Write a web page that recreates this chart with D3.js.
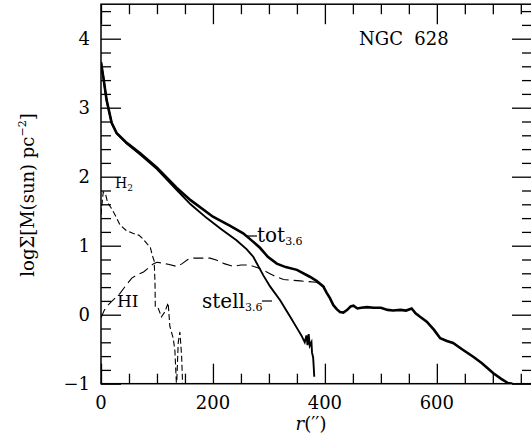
<!DOCTYPE html>
<html>
<head>
<meta charset="utf-8">
<script src="https://cdn.jsdelivr.net/npm/d3@7"></script>
<style>
  body { margin: 0; background: #fff; }
  svg text { font-family: "DejaVu Serif", serif; fill: #000; white-space: pre; }
</style>
</head>
<body>
<div id="chart"></div>
<script>
// radius in arcsec, log surface density
const totR = [0, 2, 4, 10, 19, 28, 46, 70, 100, 135, 160, 200, 230, 254, 270, 284, 298, 314, 330, 350, 373, 385, 397, 403, 409, 415, 421, 427, 433, 440, 446, 451, 458, 465, 475, 487, 500, 512, 522, 535, 545, 555, 562, 570, 582, 595, 606, 618, 629, 645, 665, 680, 701, 715, 727, 735];
const totV = [3.66, 3.55, 3.45, 3.11, 2.78, 2.63, 2.49, 2.34, 2.13, 1.84, 1.66, 1.42, 1.29, 1.18, 1.07, 0.97, 0.84, 0.74, 0.69, 0.65, 0.55, 0.49, 0.41, 0.32, 0.24, 0.14, 0.08, 0.04, 0.03, 0.07, 0.12, 0.13, 0.09, 0.10, 0.11, 0.10, 0.10, 0.07, 0.06, 0.07, 0.06, 0.09, 0.02, -0.03, -0.10, -0.22, -0.34, -0.38, -0.41, -0.50, -0.61, -0.70, -0.85, -0.93, -0.99, -1.0];

const stellR = [0, 2, 4, 10, 19, 28, 46, 70, 100, 135, 160, 189, 215, 242, 260, 272, 284, 290, 302, 320, 338, 352, 358, 364, 367, 369, 371, 373, 376, 377, 379, 380, 381];
const stellV = [3.66, 3.55, 3.45, 3.11, 2.78, 2.63, 2.48, 2.32, 2.11, 1.81, 1.60, 1.40, 1.24, 1.08, 0.95, 0.84, 0.66, 0.57, 0.41, 0.21, -0.03, -0.22, -0.30, -0.40, -0.30, -0.44, -0.28, -0.45, -0.40, -0.55, -0.62, -0.75, -0.90];

const hiR = [0, 5, 10, 20, 34, 45, 55, 65, 76, 85, 94, 100, 108, 120, 135, 145, 155, 165, 180, 195, 207, 220, 236, 250, 265, 280, 296, 310, 326, 340, 356, 370, 385, 400];
const hiV = [-0.05, 0.05, 0.12, 0.20, 0.31, 0.43, 0.53, 0.58, 0.62, 0.68, 0.74, 0.76, 0.75, 0.73, 0.70, 0.74, 0.80, 0.82, 0.82, 0.82, 0.79, 0.74, 0.70, 0.72, 0.72, 0.68, 0.62, 0.56, 0.51, 0.50, 0.49, 0.48, 0.47, 0.40];

const h2R = [0, 4, 8, 12, 18, 25, 34, 45, 57, 68, 75, 82, 88, 92, 95, 96.5, 97, 102, 108, 114, 120, 123, 129, 132, 135, 138, 141, 144, 146];
const h2V = [1.45, 1.78, 1.75, 1.62, 1.55, 1.45, 1.30, 1.22, 1.18, 1.15, 1.10, 1.03, 0.98, 0.85, 0.78, 0.45, 0.12, 0.10, -0.03, 0.04, 0.17, -0.17, -0.34, -0.52, -1.05, -0.40, -0.25, -0.60, -1.05];

const xMajor = [0, 200, 400, 600];
const yMajor = [-1, 0, 1, 2, 3, 4];

const width = 531, height = 434;
const svg = d3.select("#chart").append("svg")
  .attr("width", width).attr("height", height)
  .attr("font-family", "DejaVu Serif");

const x = d3.scaleLinear().domain([0, 770]).range([101, 532]);
const y = d3.scaleLinear().domain([-1, 4.5]).range([383.7, 4.2]);

svg.append("clipPath").attr("id", "clip")
  .append("rect").attr("x", 101).attr("y", 4.2).attr("width", 431).attr("height", 379.5);

// frame
svg.append("rect")
  .attr("x", 101).attr("y", 4.2).attr("width", 431).attr("height", 379.5)
  .attr("fill", "none").attr("stroke", "#000").attr("stroke-width", 1.5);

// ticks on all sides, pointing in
const xMinor = d3.range(0, 771, 50).filter(d => !xMajor.includes(d));
const yMinor = d3.range(-1, 4.5001, 0.2).map(d => +d.toFixed(1)).filter(d => !yMajor.includes(d));

function ticks(axis, vals, len, tr) {
  const g = svg.append("g").attr("transform", tr)
    .call(axis.tickValues(vals).tickSize(len).tickFormat(""));
  g.select(".domain").remove();
  g.selectAll("line").attr("stroke", "#000").attr("stroke-width", 1.3);
}
ticks(d3.axisBottom(x), xMajor, -20, "translate(0,383.7)");
ticks(d3.axisBottom(x), xMinor, -10, "translate(0,383.7)");
ticks(d3.axisTop(x), xMajor, -20, "translate(0,4.2)");
ticks(d3.axisTop(x), xMinor, -10, "translate(0,4.2)");
ticks(d3.axisLeft(y), yMajor, -20, "translate(101,0)");
ticks(d3.axisLeft(y), yMinor, -10, "translate(101,0)");
ticks(d3.axisRight(y), yMajor, -20, "translate(532,0)");
ticks(d3.axisRight(y), yMinor, -10, "translate(532,0)");

// tick labels
svg.selectAll(".xl").data(xMajor).join("text")
  .attr("x", d => x(d)).attr("y", 409)
  .attr("text-anchor", "middle").attr("font-size", 18)
  .text(d => d);
svg.selectAll(".yl").data(yMajor).join("text")
  .attr("x", 90).attr("y", d => y(d) + 6.5)
  .attr("text-anchor", "end").attr("font-size", 18)
  .text(d => d < 0 ? "\u2212" + Math.abs(d) : d);

// axis titles
const xt = svg.append("text").attr("x", 311).attr("y", 430)
  .attr("text-anchor", "middle").attr("font-size", 18);
xt.append("tspan").attr("font-style", "italic").text("r");
xt.append("tspan").text("(\u2032\u2032)");

const yt = svg.append("text")
  .attr("transform", "translate(34,195) rotate(-90)")
  .attr("text-anchor", "middle").attr("font-size", 18);
yt.append("tspan").text("log\u03a3[M(sun) pc");
yt.append("tspan").attr("font-size", 11).attr("dy", -8).text("\u22122");
yt.append("tspan").attr("dy", 8).text("]");

// curves
const line = d3.line().x(d => x(d[0])).y(d => y(d[1]));
const plot = svg.append("g").attr("clip-path", "url(#clip)");

plot.append("path").datum(d3.zip(h2R, h2V)).attr("d", line)
  .attr("fill", "none").attr("stroke", "#000").attr("stroke-width", 1.1)
  .attr("stroke-dasharray", "6,3");
plot.append("path").datum(d3.zip(hiR, hiV)).attr("d", line)
  .attr("fill", "none").attr("stroke", "#000").attr("stroke-width", 1.1)
  .attr("stroke-dasharray", "10,5");
plot.append("path").datum(d3.zip(stellR, stellV)).attr("d", line)
  .attr("fill", "none").attr("stroke", "#000").attr("stroke-width", 1.9);
plot.append("path").datum(d3.zip(totR, totV)).attr("d", line)
  .attr("fill", "none").attr("stroke", "#000").attr("stroke-width", 2.6);

// labels
svg.append("text").attr("x", 359).attr("y", 45).attr("font-size", 18).text("NGC  628");

const h2 = svg.append("text").attr("x", 115).attr("y", 188).attr("font-size", 14);
h2.append("tspan").text("H");
h2.append("tspan").attr("font-size", 9).attr("dy", 3).text("2");

svg.append("text").attr("x", 117).attr("y", 307).attr("font-size", 17).text("HI");

svg.append("line").attr("x1", 247).attr("x2", 257).attr("y1", 236).attr("y2", 236)
  .attr("stroke", "#000").attr("stroke-width", 1.2);
const tot = svg.append("text").attr("x", 257).attr("y", 242).attr("font-size", 20);
tot.append("tspan").text("tot");
tot.append("tspan").attr("font-size", 11).attr("dy", 3).text("3.6");

const st = svg.append("text").attr("x", 202).attr("y", 308).attr("font-size", 20);
st.append("tspan").text("stell");
st.append("tspan").attr("font-size", 11).attr("dy", 3).text("3.6");
svg.append("line").attr("x1", 262).attr("x2", 272).attr("y1", 301).attr("y2", 301)
  .attr("stroke", "#000").attr("stroke-width", 1.2);
</script>
</body>
</html>
